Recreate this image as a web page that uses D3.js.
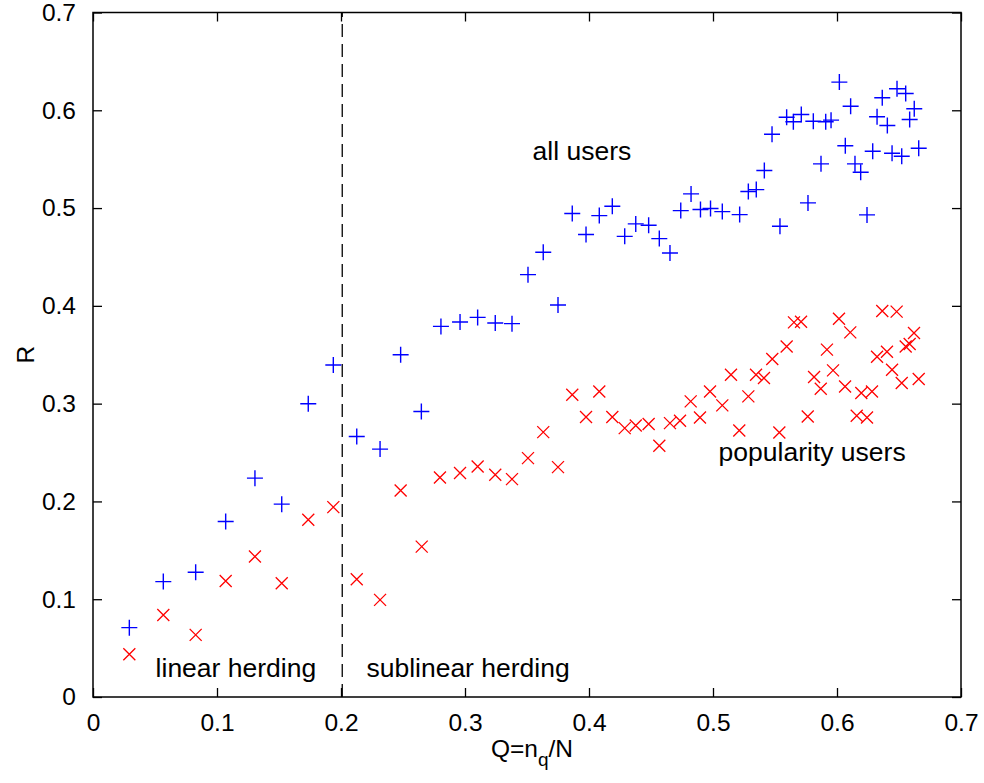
<!DOCTYPE html>
<html>
<head>
<meta charset="utf-8">
<script src="https://cdn.jsdelivr.net/npm/d3@7"></script>
<style>
  html, body { margin: 0; padding: 0; background: #fff; }
  svg { display: block; }
  text { font-family: "Liberation Sans", Arial, Helvetica, sans-serif; }
</style>
</head>
<body>
<svg id="chart" width="984" height="783"></svg>
<script>
// ---- data ----
const allUsersX = [0.0293,0.0567,0.0828,0.1070,0.1306,0.1522,0.1736,0.1938,0.2127,0.2315,
  0.2481,0.2648,0.2806,0.2960,0.3102,0.3244,0.3379,0.3508,0.3631,0.3750,
  0.3865,0.3976,0.4083,0.4188,0.4288,0.4377,0.4481,0.4567,0.4653,0.4740,
  0.4823,0.4899,0.4980,0.5075,0.5215,0.5285,0.5349,0.5414,0.5476,0.5540,
  0.5594,0.5648,0.5712,0.5766,0.5809,0.5871,0.5909,0.5952,0.6019,0.6067,
  0.6110,0.6145,0.6191,0.6242,0.6288,0.6323,0.6365,0.6406,0.6444,0.6484,
  0.6522,0.6554,0.6586,0.6623,0.6659];
const allUsersR = [0.0709,0.1180,0.1276,0.1794,0.2238,0.1972,0.2999,0.3395,0.2664,0.2535,
  0.3500,0.2920,0.3790,0.3835,0.3882,0.3825,0.3818,0.4319,0.4548,0.4009,
  0.4944,0.4729,0.4923,0.5018,0.4711,0.4838,0.4824,0.4688,0.4541,0.4974,
  0.5145,0.4985,0.4995,0.4964,0.4933,0.5169,0.5189,0.5384,0.5755,0.4814,
  0.5929,0.5882,0.5957,0.5053,0.5888,0.5452,0.5882,0.5899,0.6288,0.5637,
  0.6042,0.5452,0.5366,0.4930,0.5581,0.5934,0.6128,0.5844,0.5561,0.6220,
  0.5530,0.6172,0.5906,0.6015,0.5612];

const popUsersX = [0.0293,0.0567,0.0828,0.1070,0.1306,0.1522,0.1736,0.1938,0.2127,0.2315,
  0.2481,0.2651,0.2798,0.2960,0.3102,0.3244,0.3379,0.3508,0.3631,0.3750,
  0.3865,0.3976,0.4083,0.4188,0.4288,0.4377,0.4481,0.4567,0.4653,0.4734,
  0.4820,0.4895,0.4976,0.5075,0.5145,0.5212,0.5285,0.5347,0.5411,0.5478,
  0.5535,0.5594,0.5653,0.5710,0.5764,0.5815,0.5869,0.5919,0.5968,0.6016,
  0.6065,0.6107,0.6159,0.6196,0.6242,0.6282,0.6323,0.6365,0.6403,0.6444,
  0.6481,0.6522,0.6554,0.6586,0.6621,0.6659];
const popUsersR = [0.0437,0.0839,0.0635,0.1187,0.1436,0.1164,0.1812,0.1942,0.1205,0.0993,
  0.2112,0.1538,0.2245,0.2290,0.2357,0.2272,0.2228,0.2443,0.2709,0.2351,
  0.3091,0.2863,0.3125,0.2863,0.2750,0.2777,0.2791,0.2569,0.2801,0.2825,
  0.3023,0.2859,0.3125,0.2982,0.3296,0.2726,0.3074,0.3296,0.3262,0.3456,
  0.2705,0.3585,0.3831,0.3838,0.2869,0.3272,0.3153,0.3552,0.3340,0.3869,
  0.3176,0.3729,0.2876,0.3109,0.2859,0.3125,0.3480,0.3948,0.3531,0.3347,
  0.3941,0.3211,0.3585,0.3610,0.3723,0.3252];

const xTicks = [0, 0.1, 0.2, 0.3, 0.4, 0.5, 0.6, 0.7];
const yTicks = [0, 0.1, 0.2, 0.3, 0.4, 0.5, 0.6, 0.7];
const xTickLabels = ["0", "0.1", "0.2", "0.3", "0.4", "0.5", "0.6", "0.7"];
const yTickLabels = ["0", "0.1", "0.2", "0.3", "0.4", "0.5", "0.6", "0.7"];
const thresholdQ = 0.201;

const annotations = [
  { text: "all users", x: 0.3545, y: 0.549 },
  { text: "popularity users", x: 0.5045, y: 0.2415 },
  { text: "linear herding", x: 0.0505, y: 0.0205 },
  { text: "sublinear herding", x: 0.2205, y: 0.0205 }
];

// ---- layout ----
const svg = d3.select("#chart");
const L = 93, R = 961, T = 12.5, B = 697;
const x = d3.scaleLinear().domain([0, 0.7]).range([L, R]);
const y = d3.scaleLinear().domain([0, 0.7]).range([B, T]);
const tickLen = 9;
const fs = 24.5;

// ticks (inward, all four sides)
const axB = d3.axisBottom(x).tickValues(xTicks).tickSize(-tickLen).tickFormat((d, i) => xTickLabels[i]).tickPadding(tickLen + 8);
const axT = d3.axisTop(x).tickValues(xTicks).tickSize(-tickLen).tickFormat("");
const axL = d3.axisLeft(y).tickValues(yTicks).tickSize(-tickLen).tickFormat((d, i) => yTickLabels[i]).tickPadding(tickLen + 8);
const axR = d3.axisRight(y).tickValues(yTicks).tickSize(-tickLen).tickFormat("");

function style(g) {
  g.select(".domain").remove();
  g.selectAll(".tick line").attr("stroke", "#000").attr("stroke-width", 1.3);
  g.selectAll(".tick text").attr("fill", "#000").style("font-size", fs + "px")
    .style("font-family", '"Liberation Sans", Arial, sans-serif');
}
svg.append("g").attr("transform", `translate(0,${B})`).call(axB).call(style);
svg.append("g").attr("transform", `translate(0,${T})`).call(axT).call(style);
svg.append("g").attr("transform", `translate(${L},0)`).call(axL).call(style);
svg.append("g").attr("transform", `translate(${R},0)`).call(axR).call(style);

// dashed threshold line
svg.append("line")
  .attr("x1", x(thresholdQ)).attr("x2", x(thresholdQ))
  .attr("y1", y(0)).attr("y2", y(0.7))
  .attr("stroke", "#000").attr("stroke-width", 1.3)
  .attr("stroke-dasharray", "13,7");

// plus markers (all users)
const plusHalf = 8;
const allData = allUsersX.map((v, i) => ({ q: v, r: allUsersR[i] }));
svg.append("g").selectAll("path").data(allData).join("path")
  .attr("d", d => {
    const cx = x(d.q), cy = y(d.r);
    return `M${cx - plusHalf},${cy}H${cx + plusHalf}M${cx},${cy - plusHalf}V${cy + plusHalf}`;
  })
  .attr("stroke", "#0000ff").attr("stroke-width", 1.4).attr("fill", "none");

// x markers (popularity users)
const xHalf = 6;
const popData = popUsersX.map((v, i) => ({ q: v, r: popUsersR[i] }));
svg.append("g").selectAll("path").data(popData).join("path")
  .attr("d", d => {
    const cx = x(d.q), cy = y(d.r);
    return `M${cx - xHalf},${cy - xHalf}L${cx + xHalf},${cy + xHalf}M${cx - xHalf},${cy + xHalf}L${cx + xHalf},${cy - xHalf}`;
  })
  .attr("stroke", "#ff0000").attr("stroke-width", 1.3).attr("fill", "none");

// frame
svg.append("rect").attr("x", L).attr("y", T).attr("width", R - L).attr("height", B - T)
  .attr("fill", "none").attr("stroke", "#000").attr("stroke-width", 1.5);

// annotations
svg.append("g").selectAll("text").data(annotations).join("text")
  .attr("x", d => x(d.x)).attr("y", d => y(d.y))
  .attr("fill", "#000").style("font-size", "26.5px")
  .text(d => d.text);

// axis labels
const xl = svg.append("text").attr("x", x(0.354)).attr("y", 757).attr("text-anchor", "middle")
  .attr("fill", "#000").style("font-size", fs + "px");
xl.append("tspan").text("Q=n");
xl.append("tspan").attr("dy", 9).style("font-size", "19px").text("q");
xl.append("tspan").attr("dy", -9).text("/N");

svg.append("text").attr("transform", `translate(34,${y(0.35)}) rotate(-90)`)
  .attr("text-anchor", "middle").attr("fill", "#000").style("font-size", fs + "px").text("R");
</script>
</body>
</html>
